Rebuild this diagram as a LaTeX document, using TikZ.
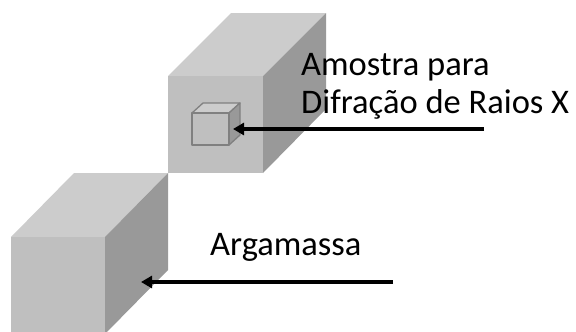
\documentclass[tikz,border=0pt]{standalone}
\usepackage{fontspec}
\setmainfont{Carlito}
\usetikzlibrary{arrows.meta}
\begin{document}
\begin{tikzpicture}[x=1pt,y=-1pt,
  frontface/.style={fill=black!25},
  topface/.style={fill=black!20},
  sideface/.style={fill=black!40},
  smallcube/.style={draw=black!50,line width=1.3pt,line join=round},
  pointer/.style={line width=3.5pt,-{Triangle[length=11pt,width=12pt]}},
  caption/.style={inner sep=0pt,anchor=base west,align=left,
    font=\fontsize{34.5}{38}\selectfont}]
\useasboundingbox (0,0) rectangle (576,332);
\begin{scope}
\clip (0,0) rectangle (576,332);
% lower block (mortar)
\fill[topface]   (11,237) -- (74,173) -- (168,173) -- (105,237) -- cycle;
\fill[sideface]  (105,237) -- (168,173) -- (168,270) -- (105,334) -- cycle;
\fill[frontface] (11,237) rectangle (105,334);
% upper block
\fill[topface]   (168,76) -- (231,13) -- (326,13) -- (263,76) -- cycle;
\fill[sideface]  (263,76) -- (326,13) -- (326,109) -- (263,173) -- cycle;
\fill[frontface] (168,76) rectangle (263,173);
\end{scope}
% small specimen cube
\filldraw[smallcube,topface]   (192,113) -- (203,103) -- (240,103) -- (229,113) -- cycle;
\filldraw[smallcube,sideface]  (229,113) -- (240,103) -- (240,135) -- (229,145) -- cycle;
\filldraw[smallcube,frontface] (192,113) rectangle (229,145);
\coordinate (specimen) at (233,129);
\coordinate (mortar) at (141,282);
% labels and pointers (the base of a two-line node is its last line)
\node[caption] (lblsample) at (301,113) {Amostra para\\Difração de Raios X};
\node[caption] (lblmortar) at (210,255) {Argamassa};
\coordinate (tailsample) at (484,129);
\coordinate (tailmortar) at (393,282);
\draw[pointer] (tailsample) -- (specimen);
\draw[pointer] (tailmortar) -- (mortar);
\end{tikzpicture}
\end{document}
